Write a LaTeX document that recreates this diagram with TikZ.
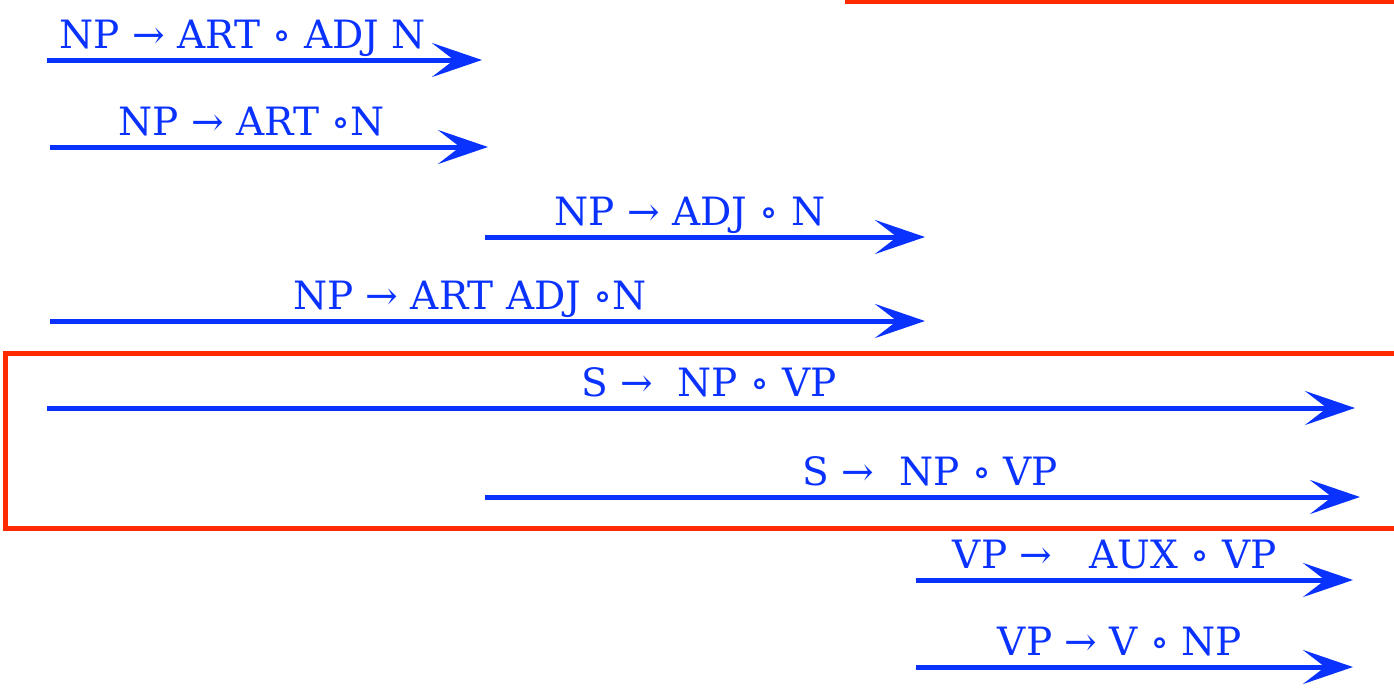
\documentclass[tikz,border=0pt]{standalone}
\usepackage{fontspec}
\setmainfont{DejaVu Serif}
\usetikzlibrary{arrows.meta}
\usetikzlibrary{positioning}
\definecolor{ruleblue}{HTML}{0A32FF}
\definecolor{boxred}{HTML}{FF2A00}
\tikzset{edge/.style = {draw=ruleblue, line width=5pt,
                        -{Stealth[length=50pt, width=34pt, inset=22pt]}}}
\tikzset{rule/.style = {text=ruleblue, font=\fontsize{39}{44}\selectfont,
                        above, inner xsep=2pt, inner ysep=9pt, text depth=0pt}}
\tikzset{hilite/.style = {draw=boxred, line width=5pt}}

\begin{document}
\begin{tikzpicture}[x=1pt, y=-1pt]
      \useasboundingbox (0, 0) rectangle (1394, 697);

      \coordinate (s1) at (47, 60);   \coordinate (e1) at (482, 60);
      \coordinate (s2) at (50, 147);  \coordinate (e2) at (488, 147);
      \coordinate (s3) at (485, 237); \coordinate (e3) at (925, 237);
      \coordinate (s4) at (50, 321);  \coordinate (e4) at (925, 321);
      \coordinate (s5) at (47, 408);  \coordinate (e5) at (1355, 408);
      \coordinate (s6) at (485, 497); \coordinate (e6) at (1360, 497);
      \coordinate (s7) at (916, 580); \coordinate (e7) at (1353, 580);
      \coordinate (s8) at (916, 667); \coordinate (e8) at (1353, 667);

      \draw [edge] (s1) -- node [rule, pos=0.45] (np-art-adj) {NP → ART ∘ ADJ N} (e1);
      \draw [edge] (s2) -- node [rule, pos=0.46] (np-art) {NP → ART ∘N} (e2);
      \draw [edge] (s3) -- node [rule, pos=0.466] (np-adj) {NP → ADJ ∘ N} (e3);
      \draw [edge] (s4) -- node [rule, pos=0.48] (np-art-adj-n) {NP → ART ADJ ∘N} (e4);
      \draw [edge] (s5) -- node [rule, pos=0.506] (s-long) {S → \ NP ∘ VP} (e5);
      \draw [edge] (s6) -- node [rule, pos=0.509] (s-short) {S → \ NP ∘ VP} (e6);
      \draw [edge] (s7) -- node [rule, pos=0.455] (vp-aux) {VP → \ \ AUX ∘ VP} (e7);
      \draw [edge] (s8) -- node [rule, pos=0.467] (vp-v) {VP → V ∘ NP} (e8);

      \draw [hilite] (5, 353) rectangle (1420, 528);
      \draw [hilite] (845, 1) -- (1420, 1);
    \end{tikzpicture}
\end{document}
